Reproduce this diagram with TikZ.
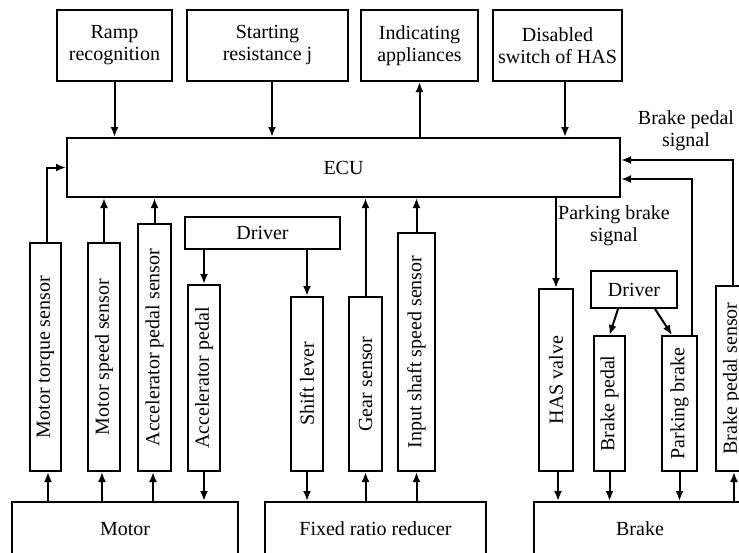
\documentclass[tikz,border=0pt]{standalone}
\usepackage{fontspec}
\setmainfont{Liberation Serif}
\usetikzlibrary{arrows.meta}
\begin{document}
\begin{tikzpicture}[x=1pt,y=-1pt,
  box/.style={draw, line width=2pt, inner sep=0pt, align=center,
    font=\fontsize{20}{22}\selectfont},
  lbl/.style={inner sep=0pt, align=center, font=\fontsize{20}{22}\selectfont},
  arr/.style={line width=2pt, -{Latex[length=10pt,width=8pt]}},
  ln/.style={line width=2pt}]
\useasboundingbox (0,0) rectangle (739,552);
\clip (0,0) rectangle (739,552);
% top boxes
\node[box, minimum width=115pt, minimum height=71pt] (ramp) at (114.5,45.5) {Ramp\\recognition};
\node[box, minimum width=161pt, minimum height=71pt] (start) at (267.5,45.5) {Starting\\resistance j};
\node[box, minimum width=117pt, minimum height=71pt] (indic) at (419.5,45.5) {Indicating\\appliances};
\node[box, minimum width=129pt, minimum height=71pt] (disab) at (557.5,45.5) {Disabled\\switch of HAS};
% ECU
\node[box, minimum width=553pt, minimum height=59pt] (ecu) at (343.5,167.5) {ECU};
% vertical boxes
\node[box, minimum width=31pt, minimum height=228pt] (mts) at (45.5,357) {\rotatebox{90}{Motor torque sensor}};
\node[box, minimum width=32pt, minimum height=228pt] (mss) at (104,357) {\rotatebox{90}{Motor speed sensor}};
\node[box, minimum width=33pt, minimum height=247pt] (aps) at (154.5,347.5) {\rotatebox{90}{Accelerator pedal sensor}};
\node[box, minimum width=155pt, minimum height=32pt] (drvL) at (262.5,233) {Driver};
\node[box, minimum width=32pt, minimum height=186pt] (ap) at (204,378) {\rotatebox{90}{Accelerator pedal}};
\node[box, minimum width=32pt, minimum height=174pt] (sl) at (307,384) {\rotatebox{90}{Shift lever}};
\node[box, minimum width=33pt, minimum height=174pt] (gs) at (365.5,384) {\rotatebox{90}{Gear sensor}};
\node[box, minimum width=37pt, minimum height=238pt] (iss) at (416.5,352) {\rotatebox{90}{Input shaft speed sensor}};
\node[box, minimum width=34pt, minimum height=182pt] (hv) at (556,380) {\rotatebox{90}{HAS valve}};
\node[box, minimum width=86pt, minimum height=37pt] (drvR) at (634,289.5) {Driver};
\node[box, minimum width=31pt, minimum height=135pt] (bp) at (609.5,403.5) {\rotatebox{90}{Brake pedal}};
\node[box, minimum width=35pt, minimum height=135pt] (pb) at (679.5,403.5) {\rotatebox{90}{Parking brake}};
\node[box, minimum width=32pt, minimum height=185pt] (bps) at (732,378.5) {\rotatebox{90}{Brake pedal sensor}};
% bottom boxes
\node[box, minimum width=226pt, minimum height=54pt] (motor) at (125,529) {Motor};
\node[box, minimum width=221pt, minimum height=54pt] (frr) at (375.5,529) {Fixed ratio reducer};
\node[box, minimum width=212pt, minimum height=54pt] (brake) at (640,529) {Brake};
% labels
\node[lbl] (pbsig) at (614,226) {Parking brake\\signal};
\node[lbl] (bpsig) at (686,131) {Brake pedal\\signal};
% top connectors
\draw[arr] (ramp.south) -- (ramp.south |- ecu.north);
\draw[arr] ([xshift=4.5pt]start.south) -- ([xshift=4.5pt]start.south |- ecu.north);
\draw[arr] (indic.south |- ecu.north) -- (indic.south);
\draw[arr] ([xshift=7.5pt]disab.south) -- ([xshift=7.5pt]disab.south |- ecu.north);
% sensors to ECU
\draw[arr] ([xshift=1.5pt]mts.north) |- (ecu.west);
\draw[arr] (mss.north) -- (mss.north |- ecu.south);
\draw[arr] (aps.north) -- (aps.north |- ecu.south);
\draw[arr] (gs.north) -- (gs.north |- ecu.south);
\draw[arr] (iss.north) -- (iss.north |- ecu.south);
\draw[arr] (ecu.south -| hv.north) -- (hv.north);
\draw[arr] ([xshift=12.5pt]pb.north) |- ([yshift=-11.5pt]ecu.east);
\draw[arr] ([xshift=1pt]bps.north) |- ([yshift=7.5pt]ecu.east);
% drivers
\draw[arr] (drvL.south -| ap.north) -- (ap.north);
\draw[arr] (drvL.south -| sl.north) -- (sl.north);
\draw[arr] ([xshift=-16pt]drvR.south) -- (bp.north);
\draw[arr] ([xshift=21pt]drvR.south) -- ([xshift=-7.5pt]pb.north);
% bottom connectors
\draw[arr] ([xshift=2.5pt]mts.south |- motor.north) -- ([xshift=2.5pt]mts.south);
\draw[arr] ([xshift=-2pt]mss.south |- motor.north) -- ([xshift=-2pt]mss.south);
\draw[arr] ([xshift=-1.5pt]aps.south |- motor.north) -- ([xshift=-1.5pt]aps.south);
\draw[arr] (ap.south) -- (ap.south |- motor.north);
\draw[arr] (sl.south) -- (sl.south |- frr.north);
\draw[arr] (gs.south |- frr.north) -- (gs.south);
\draw[arr] (iss.south |- frr.north) -- (iss.south);
\draw[arr] ([xshift=2pt]hv.south) -- ([xshift=2pt]hv.south |- brake.north);
\draw[arr] (bp.south) -- (bp.south |- brake.north);
\draw[arr] (pb.south) -- (pb.south |- brake.north);
\draw[arr] ([xshift=2pt]bps.south |- brake.north) -- ([xshift=2pt]bps.south);
\end{tikzpicture}
\end{document}
